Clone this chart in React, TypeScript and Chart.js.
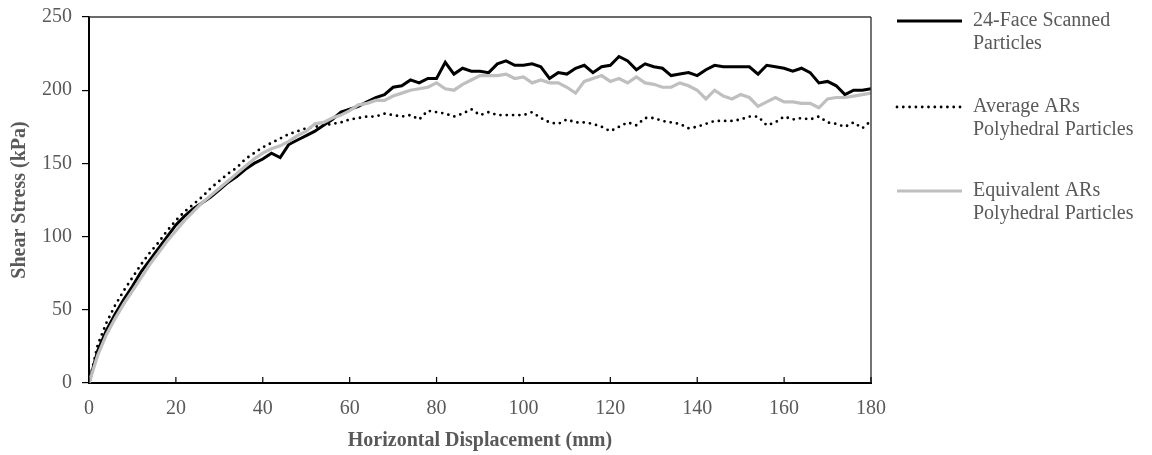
import { useEffect, useRef } from 'react';
import { Chart, registerables } from 'chart.js';

Chart.register(...registerables);

// Horizontal displacement (mm)
const displacement = [
  0, 2, 4, 6, 8, 10, 12, 14, 16, 18,
  20, 22, 24, 26, 28, 30, 32, 34, 36, 38,
  40, 42, 44, 46, 48, 50, 52, 54, 56, 58,
  60, 62, 64, 66, 68, 70, 72, 74, 76, 78,
  80, 82, 84, 86, 88, 90, 92, 94, 96, 98,
  100, 102, 104, 106, 108, 110, 112, 114, 116, 118,
  120, 122, 124, 126, 128, 130, 132, 134, 136, 138,
  140, 142, 144, 146, 148, 150, 152, 154, 156, 158,
  160, 162, 164, 166, 168, 170, 172, 174, 176, 178,
  180,
];

// Shear stress (kPa)
const scannedParticles = [
  0, 22, 36, 47, 57, 66, 76, 84, 92, 100,
  108, 114, 119, 123, 127, 132, 137, 141, 146, 150,
  153, 157, 154, 163, 166, 169, 172, 176, 180, 185,
  187, 189, 192, 195, 197, 202, 203, 207, 205, 208,
  208, 219, 211, 215, 213, 213, 212, 218, 220, 217,
  217, 218, 216, 208, 212, 211, 215, 217, 212, 216,
  217, 223, 220, 214, 218, 216, 215, 210, 211, 212,
  210, 214, 217, 216, 216, 216, 216, 211, 217, 216,
  215, 213, 215, 212, 205, 206, 203, 197, 200, 200,
  201,
];

const averageARs = [
  0, 26, 41, 53, 63, 72, 81, 89, 96, 104,
  111, 117, 122, 127, 133, 138, 143, 147, 153, 157,
  161, 164, 167, 170, 172, 174, 175, 176, 177, 178,
  180, 181, 182, 182, 184, 183, 182, 183, 180, 186,
  185, 184, 182, 184, 187, 183, 185, 183, 183, 183,
  183, 185, 181, 178, 177, 180, 178, 178, 177, 175,
  172, 175, 178, 176, 181, 181, 179, 178, 177, 174,
  175, 177, 179, 179, 179, 180, 182, 182, 176, 178,
  182, 180, 181, 180, 182, 178, 177, 175, 178, 174,
  179,
];

const equivalentARs = [
  0, 19, 33, 44, 54, 63, 72, 81, 89, 97,
  104, 111, 117, 123, 128, 133, 138, 143, 148, 153,
  157, 160, 162, 165, 169, 172, 177, 178, 181, 183,
  186, 190, 191, 193, 193, 196, 198, 200, 201, 202,
  205, 201, 200, 204, 207, 210, 210, 210, 211, 208,
  209, 205, 207, 205, 205, 202, 198, 206, 208, 210,
  206, 208, 205, 209, 205, 204, 202, 202, 205, 203,
  200, 194, 200, 196, 194, 197, 195, 189, 192, 195,
  192, 192, 191, 191, 188, 194, 195, 195, 196, 197,
  198,
];

const seriesLabels = [
  ['24-Face Scanned', 'Particles'],
  ['Average ARs', 'Polyhedral Particles'],
  ['Equivalent ARs', 'Polyhedral Particles'],
];

const xTitle = 'Horizontal Displacement (mm)';
const yTitle = 'Shear Stress (kPa)';

const W = 1152;
const H = 455;
const TEXT = '#595959';
const FONT = '"Liberation Serif", "Times New Roman", serif';

const toPoints = (vals: number[]) => displacement.map((x, i) => ({ x, y: vals[i] }));

const decorPlugin = {
  id: 'decor',
  afterDatasetsDraw(chart: any) {
    const { ctx, chartArea } = chart;
    const { left, right, top, bottom } = chartArea;
    ctx.save();
    ctx.strokeStyle = '#3a3a3a';
    ctx.lineWidth = 1.4;
    ctx.beginPath();
    ctx.moveTo(left, top);
    ctx.lineTo(right, top);
    ctx.stroke();
    ctx.beginPath();
    ctx.moveTo(right, top);
    ctx.lineTo(right, bottom);
    ctx.stroke();
    const xs = chart.scales.x;
    ctx.strokeStyle = '#000';
    ctx.lineWidth = 1.2;
    xs.ticks.forEach((t: any) => {
      const px = xs.getPixelForValue(t.value);
      ctx.beginPath();
      ctx.moveTo(px, bottom);
      ctx.lineTo(px, bottom - 6);
      ctx.stroke();
    });
    ctx.restore();
  },
  afterDraw(chart: any) {
    const { ctx, chartArea } = chart;
    const lineX0 = chartArea.right + 26;
    const lineX1 = lineX0 + 65;
    const textX = lineX1 + 11;
    const rowY = [21, 107, 191];
    ctx.save();
    chart.data.datasets.forEach((ds: any, i: number) => {
      const y = rowY[i];
      ctx.beginPath();
      ctx.strokeStyle = ds.borderColor;
      ctx.lineWidth = ds.borderWidth;
      ctx.lineCap = ds.borderCapStyle || 'butt';
      ctx.setLineDash(ds.borderDash || []);
      ctx.moveTo(lineX0, y);
      ctx.lineTo(lineX1, y);
      ctx.stroke();
      ctx.setLineDash([]);
      ctx.fillStyle = TEXT;
      ctx.font = `20px ${FONT}`;
      ctx.textAlign = 'left';
      ctx.textBaseline = 'middle';
      const lines: string[] = seriesLabels[i];
      lines.forEach((ln, j) => ctx.fillText(ln, textX, y + j * 23));
    });
    ctx.restore();
  },
};

export default function App() {
  const ref = useRef<HTMLCanvasElement | null>(null);

  useEffect(() => {
    document.body.style.margin = '0';
    const canvas = ref.current;
    if (!canvas) return;
    const chart = new Chart(canvas, {
      type: 'line',
      data: {
        datasets: [
          {
            label: seriesLabels[0].join(' '),
            data: toPoints(scannedParticles),
            borderColor: '#000000',
            borderWidth: 3,
            pointRadius: 0,
            tension: 0,
            order: 2,
          },
          {
            label: seriesLabels[1].join(' '),
            data: toPoints(averageARs),
            borderColor: '#000000',
            borderWidth: 2.8,
            borderDash: [0, 6.3],
            borderCapStyle: 'round',
            pointRadius: 0,
            tension: 0,
            order: 1,
          },
          {
            label: seriesLabels[2].join(' '),
            data: toPoints(equivalentARs),
            borderColor: '#BFBFBF',
            borderWidth: 3.2,
            pointRadius: 0,
            tension: 0,
            order: 0,
          },
        ],
      },
      options: {
        responsive: false,
        devicePixelRatio: 1,
        animation: false,
        layout: { padding: { left: 0, right: 281, top: 17, bottom: 0 } },
        plugins: {
          legend: { display: false },
          tooltip: { enabled: false },
        },
        scales: {
          x: {
            type: 'linear',
            min: 0,
            max: 180,
            ticks: {
              stepSize: 20,
              color: TEXT,
              font: { family: FONT, size: 20 },
              padding: 14,
              maxRotation: 0,
            },
            grid: { display: false, drawTicks: false },
            border: { display: true, color: '#000', width: 2 },
            title: {
              display: true,
              text: xTitle,
              color: TEXT,
              font: { family: FONT, size: 20, weight: 'bold' },
              padding: { top: 0, bottom: 2 },
            },
            afterFit: (s: any) => {
              s.height = 72;
              s.paddingLeft = 0;
              s.paddingRight = 0;
            },
          },
          y: {
            type: 'linear',
            min: 0,
            max: 250,
            ticks: {
              stepSize: 50,
              color: TEXT,
              font: { family: FONT, size: 20 },
              padding: 10,
            },
            grid: {
              display: true,
              drawOnChartArea: false,
              drawTicks: true,
              tickLength: 7,
              color: '#000',
              lineWidth: 1.2,
            },
            border: { display: true, color: '#000', width: 2 },
            title: {
              display: true,
              text: yTitle,
              color: TEXT,
              font: { family: FONT, size: 20, weight: 'bold' },
              padding: { top: 8, bottom: 0 },
            },
            afterFit: (s: any) => {
              s.width = 89;
              s.paddingTop = 0;
              s.paddingBottom = 0;
            },
          },
        },
      },
      plugins: [decorPlugin],
    } as any);
    return () => chart.destroy();
  }, []);

  return (
    <div style={{ width: W, height: H }}>
      <canvas
        ref={ref}
        width={W}
        height={H}
        style={{ width: `${W}px`, height: `${H}px`, display: 'block' }}
      />
    </div>
  );
}
